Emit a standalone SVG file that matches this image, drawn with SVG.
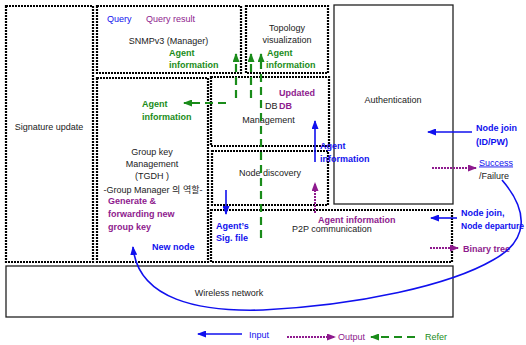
<svg xmlns="http://www.w3.org/2000/svg" width="526" height="345" viewBox="0 0 526 345">
<style>
text{font-family:"Liberation Sans",Arial,"Noto Sans CJK KR",sans-serif;font-size:9px;fill:#222}
.b{font-weight:bold}
.blue{fill:#1010ee}
.pur{fill:#8e1a8e}
.grn{fill:#1a8c1a}
.dot{fill:none;stroke:#000;stroke-width:2.2;stroke-dasharray:2 1}
.sol{fill:none;stroke:#222;stroke-width:1.3}
.lb{fill:none;stroke:#1010ee;stroke-width:1.6}
.lp{fill:none;stroke:#8e1a8e;stroke-width:2;stroke-dasharray:2 1}
.lg{fill:none;stroke:#1a8c1a;stroke-width:2.2;stroke-dasharray:8 5}
</style>
<defs>
<marker id="ab" markerWidth="9" markerHeight="7" refX="8" refY="3.5" orient="auto" markerUnits="userSpaceOnUse"><path d="M0,0 L9,3.5 L0,7 Z" fill="#1010ee"/></marker>
<marker id="ap" markerWidth="9" markerHeight="7" refX="8" refY="3.5" orient="auto" markerUnits="userSpaceOnUse"><path d="M0,0 L9,3.5 L0,7 Z" fill="#8e1a8e"/></marker>
<marker id="ag" markerWidth="9" markerHeight="7" refX="8" refY="3.5" orient="auto" markerUnits="userSpaceOnUse"><path d="M0,0 L9,3.5 L0,7 Z" fill="#1a8c1a"/></marker>
</defs>
<rect width="526" height="345" fill="#fff"/>

<g id="signature-update">
<rect class="dot" x="6" y="6" width="87" height="256"/>
<text x="49" y="129.5" text-anchor="middle">Signature update</text>
</g>
<g id="snmp">
<rect class="dot" x="97" y="6" width="144" height="67"/>
<text class="blue" x="107" y="21.5">Query</text>
<text class="pur" x="146" y="21.5">Query result</text>
<text x="168.5" y="43.5" text-anchor="middle">SNMPv3 (Manager)</text>
<text class="b grn" x="169" y="55.5">Agent</text>
<text class="b grn" x="169" y="67.5">information</text>
</g>
<g id="topology">
<rect class="dot" x="246" y="6" width="82" height="67"/>
<text x="287" y="30.5" text-anchor="middle">Topology</text>
<text x="287" y="42.5" text-anchor="middle">visualization</text>
<text class="b grn" x="267" y="55.5">Agent</text>
<text class="b grn" x="266" y="67.5">information</text>
</g>
<g id="authentication">
<rect class="sol" x="334" y="5" width="119" height="199"/>
<text x="393" y="102.5" text-anchor="middle">Authentication</text>
</g>
<g id="group-key">
<rect class="dot" x="97" y="78" width="111" height="184"/>
<text class="b grn" x="142" y="106.5">Agent</text>
<text class="b grn" x="142" y="119.5">information</text>
<text x="152" y="154.5" text-anchor="middle">Group key</text>
<text x="152" y="166.5" text-anchor="middle">Management</text>
<text x="152" y="178.5" text-anchor="middle">(TGDH )</text>
<text x="153" y="192.5" text-anchor="middle">-Group Manager 의 역할-</text>
<text class="b pur" x="108" y="204">Generate  &amp;</text>
<text class="b pur" x="108" y="217">forwarding new</text>
<text class="b pur" x="108" y="230">group key</text>
<text class="b blue" x="152" y="250">New node</text>
</g>
<g id="db-management">
<rect class="dot" x="211" y="77" width="118" height="69"/>
<text class="b pur" x="279" y="95.5">Updated</text>
<text x="265" y="108.5">DB</text>
<text class="b pur" x="279" y="108.5">DB</text>
<text x="268.5" y="122.5" text-anchor="middle">Management</text>
</g>
<g id="node-discovery">
<rect class="dot" x="212" y="151" width="116" height="54"/>
<text x="270" y="175.5" text-anchor="middle">Node discovery</text>
</g>
<g id="p2p">
<rect class="dot" x="211" y="210" width="241" height="52"/>
<text class="b blue" x="216" y="228.5">Agent’s</text>
<text class="b blue" x="216" y="241">Sig. file</text>
<text class="b pur" x="318" y="223">Agent information</text>
<text x="292" y="232">P2P communication</text>
</g>
<g id="wireless">
<rect class="sol" x="6" y="266" width="447" height="51"/>
<text x="229" y="295.5" text-anchor="middle">Wireless network</text>
</g>
<g id="labels">
<text class="b blue" x="320" y="148.5">Agent</text>
<text class="b blue" x="320" y="161.5">information</text>
<text class="b blue" x="476" y="130.5">Node join</text>
<text class="b blue" x="476" y="144.5">(ID/PW)</text>
<text class="blue" x="479" y="165.5" text-decoration="underline">Success</text>
<text x="479" y="178.5">/Failure</text>
<text class="b blue" x="461" y="215.5">Node join,</text>
<text class="b blue" x="461" y="228.5" textLength="63" lengthAdjust="spacingAndGlyphs">Node departure</text>
<text class="b pur" x="463" y="251.5">Binary tree</text>
</g>
<g id="connectors">
<line class="lg" x1="236" y1="98" x2="236" y2="54" marker-end="url(#ag)"/>
<line class="lg" x1="251" y1="98" x2="251" y2="54" marker-end="url(#ag)"/>
<line class="lg" x1="261" y1="238" x2="261" y2="54" marker-end="url(#ag)"/>
<line class="lg" x1="226" y1="103" x2="184" y2="103" marker-end="url(#ag)"/>
<line class="lb" x1="315" y1="162" x2="315" y2="121" marker-end="url(#ab)"/>
<line class="lb" x1="472" y1="132" x2="428" y2="132" marker-end="url(#ab)"/>
<line class="lp" x1="432" y1="168" x2="476" y2="168" marker-end="url(#ap)"/>
<line class="lb" x1="226" y1="190" x2="226" y2="214" marker-end="url(#ab)"/>
<line class="lp" x1="315" y1="213" x2="315" y2="183" marker-end="url(#ap)"/>
<line class="lb" x1="457" y1="218" x2="431" y2="218" marker-end="url(#ab)"/>
<line class="lp" x1="430" y1="248" x2="458" y2="248" marker-end="url(#ap)"/>
<path class="lb" d="M502,180 C528,210 530,240 493,260 C450,285 360,305 263,310 C200,312 138,300 133,247" marker-end="url(#ab)"/>
</g>
<g id="legend">
<line class="lb" x1="242" y1="334" x2="198" y2="334" marker-end="url(#ab)"/>
<text class="blue" x="249" y="337.5">Input</text>
<line class="lp" x1="287" y1="337" x2="335" y2="337" marker-end="url(#ap)"/>
<text class="pur" x="338" y="340">Output</text>
<line class="lg" x1="415" y1="337" x2="371" y2="337" marker-end="url(#ag)"/>
<text class="grn" x="425" y="340">Refer</text>
</g>
</svg>
